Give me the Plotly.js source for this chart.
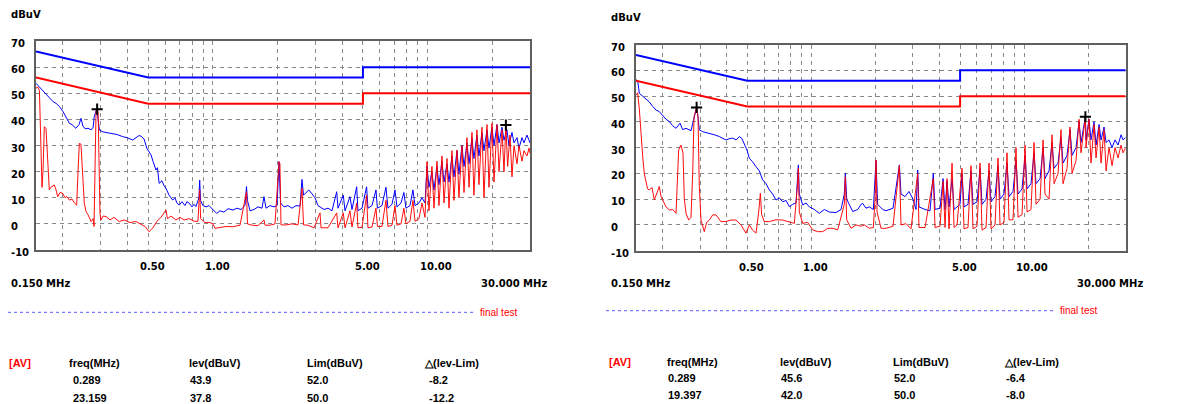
<!DOCTYPE html>
<html>
<head>
<meta charset="utf-8">
<script src="https://cdn.plot.ly/plotly-3.0.1.min.js"></script>
<style>html,body{margin:0;padding:0;background:#fff;}#chart{width:1177px;height:404px;}</style>
</head>
<body>
<div id="chart"></div>
<script>
// ---------- DATA ----------
// limit lines (MHz / dBuV)
const limFreq = [0.15, 0.5, 5, 5, 30];
const limQP   = [66, 56, 56, 60, 60];
const limAV   = [56, 46, 46, 50, 50];

// vertical grid frequencies and axis labels
const gridFreq = [0.2,0.3,0.4,0.5,0.6,0.7,0.8,0.9,1,2,3,4,5,6,7,8,9,10,20];
const xTickVals = [0.5, 1, 5, 10];
const xTickText = ['0.50', '1.00', '5.00', '10.00'];
const yTickVals = [70, 60, 50, 40, 30, 20, 10, 0, -10];

// left chart, blue trace
const freqLeftQP = [0.150,0.1532,0.1564,0.161,0.167,0.172,0.180,0.187,0.193,0.2004,
 0.207,0.2145,0.2207,0.230,0.238,0.243,0.248,0.254,0.262,0.271,
 0.277,0.280,0.288,0.292,0.296,0.308,0.325,0.341,0.358,0.380,
 0.398,0.423,0.438,0.453,0.462,0.478,0.492,0.504,0.515,0.526,
 0.543,0.552,0.562,0.579,0.591,0.605,0.625,0.650,0.666,0.680,
 0.697,0.718,0.741,0.757,0.776,0.800,0.817,0.834,0.861,0.868,
 0.876,0.899,0.929,0.959,1.0,1.042,1.079,1.126,1.176,1.241,
 1.295,1.352,1.411,1.434,1.449,1.489,1.554,1.622,1.693,1.73,
 1.768,1.845,1.926,1.989,2.033,2.066,2.144,2.238,2.336,2.439,
 2.546,2.601,2.643,2.715,2.80,2.895,2.99,3.088,3.155,3.293,
 3.437,3.587,3.773,3.826,4.05,4.125,4.35,4.446,4.675,4.74,
 4.95,5.2,5.277,5.51,5.75,5.84,6.13,6.40,6.54,6.83,
 7.05,7.2,7.52,7.76,7.93,8.28,8.55,8.74,9.12,9.42,
 9.73,9.94,10.15,10.48,10.71,11.06,11.3,11.67,11.93,12.32,
 12.58,12.99,13.27,13.71,14.0,14.46,14.78,15.26,15.6,16.1,
 16.44,16.98,17.35,17.92,18.31,18.91,19.32,19.95,20.39,21.06,
 21.52,22.22,22.7,23.43,23.94,24.73,25.27,26.1,26.66,27.53,
 28.12,29.04,29.68,30];
const levLeftQP = [53.8,53,52.5,51,50,48.5,46.8,46,44.9,43,
 41,38.5,38,36.6,38,40.4,37.5,36.4,36.6,36,
 37,41,44.2,40,35.9,35.2,34.8,34.7,34.2,33.4,
 33,32.1,33,33.8,33.6,32.5,29,27.5,26.4,24,
 20.6,21.5,15.5,16.5,14.8,13.6,11,9.1,10,8,
 7.2,8.5,7,8.5,7.9,6.5,7.5,6.6,10,16.8,
 9,7,6.5,7,5.5,4,5,4.5,5.8,5.3,
 6,5.5,7,14.3,9,5,5.5,6.5,6,10.4,
 6,7,6.5,7,23.8,8,6.5,7,6,7,
 6.8,17,11,12,13,11.5,10,7,6.5,5.5,
 6,5,12.3,6,11,5,10.4,5.5,14.2,5,
 6,14.2,6,7,13,6,7,14,6,7.5,
 13,6.5,8,12,6,7,13,7,8,10,
 8,22,14,20,13,22,15,24,16,23,
 16,26,18,28,19,30,22,31,23,33,
 25,34,26,35,28,36,29,37,30,38,
 31,37,32,36,30,35,31,33,29,33,
 31,34,32,31];

// left chart, red trace
const freqLeftAV = [0.150,0.1532,0.1556,0.1582,0.160,0.1617,0.164,0.167,0.1697,0.173,
 0.176,0.1826,0.186,0.1893,0.194,0.1997,0.2047,0.209,0.2145,0.2207,
 0.2267,0.232,0.2354,0.2387,0.243,0.247,0.2518,0.2565,0.262,0.271,
 0.277,0.2795,0.2825,0.2856,0.2886,0.292,0.2947,0.298,0.301,0.308,
 0.318,0.332,0.346,0.366,0.386,0.411,0.438,0.458,0.483,0.504,
 0.526,0.549,0.573,0.605,0.614,0.638,0.673,0.703,0.734,0.776,
 0.817,0.852,0.868,0.877,0.919,0.969,1.0,1.023,1.079,1.151,
 1.241,1.338,1.434,1.449,1.521,1.622,1.73,1.749,1.845,1.947,
 2.033,2.053,2.076,2.19,2.336,2.492,2.601,2.643,2.773,2.958,
 3.155,3.19,3.437,3.773,3.826,4.05,4.125,4.35,4.446,4.675,
 4.74,4.95,5.2,5.277,5.51,5.75,5.84,6.13,6.40,6.54,
 6.83,7.05,7.2,7.52,7.76,7.93,8.28,8.55,8.74,9.12,
 9.42,9.73,9.94,10.15,10.48,10.71,11.06,11.3,11.67,11.93,
 12.32,12.58,12.99,13.27,13.71,14.0,14.46,14.78,15.26,15.6,
 16.1,16.44,16.98,17.35,17.92,18.31,18.91,19.32,19.95,20.39,
 21.06,21.52,22.22,22.7,23.159,23.6,24.2,24.73,25.27,26.1,
 26.66,27.53,28.12,29.04,29.68,30];
const levLeftAV = [52,52.3,51,32,14,20,37.2,36.5,25,13,
 14,14.9,13,10.4,12,11.7,10,10.5,9.1,9.5,
 8,7.2,20,30.8,30.5,20,7.9,4.7,3.5,0.9,
 2,-1,30,43,44.2,43,25,4,1.5,3,
 2.8,1.5,2.5,0.9,1.5,0.5,0.9,0,-1,-3,
 -1.5,1,2.5,5.3,2,3,1.5,2.5,1.5,2,
 1,1,13,2,0.5,0.5,0,-1.7,-1.5,-1,
 -1.1,-0.5,12.3,0,-0.5,-0.7,1.5,-0.5,-0.5,0,
 23.8,23,-0.4,-0.4,0,-0.4,13.6,-0.4,-0.5,-1.5,
 4.2,-1.5,-1.5,4.2,-1.5,4.2,-1.5,5,-1.2,7.9,
 -1.5,-1.3,11,-1.5,-1.2,6,-1,-1,9,-1,
 -0.5,7,-0.5,0,6,0,1,9,1,2,
 8,2.5,23.8,5,22,6,24,7,26,8,
 25,6,28,9,28.3,10,30,12,33,14,
 35,11,36,15,37,10,38,14,38.5,16,
 38,20,36,20,38,22,34,18,30,23,
 30,24,28,26,29,27];

// right chart, blue trace
const freqRightQP = [0.150,0.1527,0.1555,0.1613,0.167,0.173,0.1797,0.1863,0.193,0.2,
 0.2076,0.2153,0.223,0.2313,0.2415,0.2485,0.2577,0.272,0.279,0.289,
 0.2934,0.2976,0.3085,0.3317,0.350,0.3696,0.397,0.412,0.427,0.4427,
 0.459,0.472,0.484,0.4986,0.511,0.5297,0.5496,0.5697,0.5906,0.6124,
 0.635,0.658,0.682,0.7074,0.7335,0.7605,0.788,0.817,0.847,0.8595,
 0.869,0.878,0.9105,0.944,0.979,1.033,1.09,1.151,1.215,1.306,
 1.379,1.429,1.445,1.466,1.565,1.652,1.712,1.742,1.806,1.873,
 1.956,2.013,2.049,2.164,2.244,2.42,2.592,2.639,2.755,2.877,
 3.004,3.104,3.161,3.205,3.421,3.611,3.742,3.812,4.025,4.158,
 4.249,4.342,4.437,4.583,4.683,4.837,4.997,5.106,5.217,5.448,
 5.628,5.751,6.006,6.204,6.339,6.62,6.838,6.988,7.297,7.536,
 7.701,8.041,8.307,8.489,8.864,9.157,9.358,9.773,10.1,10.32,
 10.77,11.13,11.37,11.88,12.27,12.53,13.09,13.52,13.82,14.43,
 14.9,15.23,15.9,16.42,16.79,17.53,18.11,18.5,19.397,19.53,
 20.17,20.61,21.3,21.77,22.49,22.98,23.73,24.26,25.05,25.88,
 26.73,27.62,28.53,29.15,30];
const levRightQP = [56.3,56,51.1,50,49,47.8,46,44.6,44,42.7,
 41,40.1,38.5,37.5,39.5,37,37.5,36.6,40,45.6,
 42,36.9,36.2,35.6,35,34.3,33,33.5,33.7,33,
 34.3,33.5,31.7,29,25.9,24.5,22.6,21,17.5,16,
 13.6,12,9.7,10.5,9,9.5,7.1,8,8.5,15,
 23.3,12,7.8,8.5,7,6,4.5,6,5,4.8,
 6,12,20.1,10,5.2,6,8,8.4,6.5,7,
 6,25.2,8,6,5.5,6.5,23.3,12,11,13,
 10,6,21.3,7,6,5.5,20,6,6.5,18,
 6,17,7,18,6,7,8,20,7,8,
 21,8,9,22,8,10,21,9,11,23,
 10,12,24,11,13,25,12,14,27,14,
 16,28,16,18,30,18,21,32,22,24,
 34,24,27,37,27,30,40,32,42,33,
 41,33,40,31,39,33,38,32,33,30,
 33,31,35,33,34];

// right chart, red trace
const freqRightAV = [0.150,0.1527,0.1555,0.1583,0.1613,0.1641,0.167,0.170,0.173,0.1784,
 0.1829,0.1876,0.193,0.1967,0.2,0.2076,0.2153,0.223,0.2313,0.2346,
 0.238,0.244,0.2494,0.253,0.2577,0.2652,0.272,0.277,0.281,0.289,
 0.2934,0.2976,0.303,0.314,0.322,0.3317,0.344,0.3565,0.376,0.397,
 0.419,0.4427,0.467,0.493,0.511,0.5297,0.5496,0.5657,0.576,0.584,
 0.601,0.635,0.682,0.7335,0.788,0.832,0.8595,0.869,0.878,0.9105,
 0.961,1.015,1.071,1.131,1.194,1.26,1.33,1.429,1.445,1.466,
 1.536,1.622,1.712,1.775,1.873,1.956,1.992,2.013,2.036,2.126,
 2.244,2.42,2.592,2.639,2.786,2.94,3.161,3.205,3.421,3.742,
 3.812,4.025,4.158,4.249,4.342,4.437,4.583,4.683,4.837,5.106,
 5.217,5.448,5.628,5.751,6.006,6.204,6.339,6.62,6.838,6.988,
 7.297,7.536,7.701,8.041,8.307,8.489,8.864,9.157,9.358,9.773,
 10.1,10.32,10.77,11.13,11.37,11.88,12.27,12.53,13.09,13.52,
 13.82,14.43,14.9,15.23,15.9,16.42,16.79,17.53,18.11,18.5,
 19.397,19.53,20.17,20.61,21.3,21.77,22.49,22.98,23.73,24.26,
 25.05,25.88,26.73,27.62,28.53,29.15,30];
const levRightAV = [50.4,51.3,45,35,26.5,20,16.2,14,13.6,14.5,
 9.7,12,14.9,11,9.7,7,5.8,6,4.5,20,
 29.1,31,28,10,4.5,1.9,3,20,42,45.6,
 42,15,1.9,-2.6,1,1.9,3.9,3.9,1.3,1.3,
 1.9,1.9,0,-3.2,0,-2,-3.2,5,12.3,4,
 1.3,1.3,2,1.9,1,0.6,15,22,5,0.6,
 1,-1.9,-2.6,-2.6,-1.3,-1.3,-1.9,8,18.7,2,
 -1.3,0,-0.5,0,-1.3,-1,10,25.2,5,-1.3,
 -1.3,-0.5,23,0,0.5,-1.5,20,-1,-1,18,
 -1,-0.5,17,-1,18,-1.5,24,-1,0,22,
 -1.5,-1,23,-1.5,-0.5,24,-2,-1,24,-1.5,
 0,26,0,1,28,2,2,30,3,4,
 31,5,6,32,8,10,33,12,10,35,
 16,20,37,16,22,38,20,25,41,28,
 42,30,41,24,39,26,38,24,37,21,
 30,23,30,26,31,28,30];

// marked peaks and result tables
const peakFreqLeft  = [0.289, 23.159];
const peakLevLeft   = [43.9, 37.8];
const limAtPeakLeft = [52.0, 50.0];
const deltaLeft     = [-8.2, -12.2];
const peakFreqRight  = [0.289, 19.397];
const peakLevRight   = [45.6, 42.0];
const limAtPeakRight = [52.0, 50.0];
const deltaRight     = [-6.4, -8.0];
const tableHeaders = ['freq(MHz)', 'lev(dBuV)', 'Lim(dBuV)', '\u25B3(lev-Lim)'];

// ---------- FIGURE ----------
const W = 1177, H = 404;
const px = v => v / W;
const py = v => 1 - v / H;
const BLUE = '#0000ff', RED = '#ff0000';
const tickFont = {family: 'DejaVu Sans', size: 10, color: '#000', weight: 'bold'};
const tabFont = {family: 'Liberation Sans, Arial', size: 11, color: '#000', weight: 'bold'};

function axisX(dom, anchor) {
  return {type: 'log', domain: dom, anchor: anchor,
    range: [Math.log10(0.15), Math.log10(30)],
    tickmode: 'array', tickvals: gridFreq, showticklabels: false, ticks: '',
    showgrid: true, gridcolor: '#8a8a8a', gridwidth: 1, griddash: '4px,4px',
    showline: true, mirror: true, linecolor: '#5f5f5f', linewidth: 2,
    zeroline: false, fixedrange: true};
}
function axisY(dom, anchor) {
  return {domain: dom, anchor: anchor, range: [-10, 70],
    tickmode: 'array', tickvals: [0,10,20,30,40,50,60], showticklabels: false, ticks: '',
    showgrid: true, gridcolor: '#8a8a8a', gridwidth: 1, griddash: '4px,4px',
    showline: true, mirror: true, linecolor: '#5f5f5f', linewidth: 2,
    zeroline: false, fixedrange: true};
}

function tracesFor(xa, ya, fQP, lQP, fAV, lAV, pf, pl) {
  return [
    {x: fQP, y: lQP, xaxis: xa, yaxis: ya, type: 'scatter', mode: 'lines',
     line: {color: BLUE, width: 1}, hoverinfo: 'skip'},
    {x: fAV, y: lAV, xaxis: xa, yaxis: ya, type: 'scatter', mode: 'lines',
     line: {color: RED, width: 1}, opacity: 0.95, hoverinfo: 'skip'},
    {x: limFreq, y: limQP, xaxis: xa, yaxis: ya, type: 'scatter', mode: 'lines',
     line: {color: BLUE, width: 2}, hoverinfo: 'skip'},
    {x: limFreq, y: limAV, xaxis: xa, yaxis: ya, type: 'scatter', mode: 'lines',
     line: {color: RED, width: 2}, hoverinfo: 'skip'},
    {x: pf, y: pl, xaxis: xa, yaxis: ya, type: 'scatter', mode: 'markers',
     marker: {symbol: 'cross-thin', size: 8, line: {color: '#000', width: 2}},
     hoverinfo: 'skip'}
  ];
}

const data = [].concat(
  tracesFor('x', 'y', freqLeftQP, levLeftQP, freqLeftAV, levLeftAV, peakFreqLeft, peakLevLeft),
  tracesFor('x2', 'y2', freqRightQP, levRightQP, freqRightAV, levRightAV, peakFreqRight, peakLevRight)
);

const ann = [];
function txt(t, x, y, xanchor, font, extra) {
  ann.push(Object.assign({text: t, x: x, y: y, xref: 'paper', yref: 'paper',
    xanchor: xanchor, yanchor: 'middle', showarrow: false, font: font, borderpad: 0}, extra || {}));
}

function panelText(o) {
  // unit label
  txt('dBuV', px(o.left), py(o.unitY), 'left', tickFont);
  // y tick labels
  yTickVals.forEach(v => {
    ann.push({text: String(v), x: px(o.left), y: v, xref: 'paper', yref: o.ya,
      xanchor: 'left', yanchor: 'middle', yshift: -2.5, showarrow: false,
      font: tickFont, borderpad: 0});
  });
  // x tick labels
  xTickVals.forEach((v, i) => {
    ann.push({text: xTickText[i], x: Math.log10(v), y: py(o.xlabY), xref: o.xa, yref: 'paper',
      xanchor: 'left', yanchor: 'middle', xshift: -9, showarrow: false,
      font: tickFont, borderpad: 0});
  });
  txt('0.150 MHz', px(o.left), py(o.mhzY), 'left', tickFont);
  txt('30.000 MHz', px(o.mhzRight), py(o.mhzY), 'right', tickFont);
  // legend
  txt('final test', px(o.legTextX), py(o.legY), 'left',
      {family: 'Liberation Sans, Arial', size: 10, color: RED});
  // table
  txt('[AV]', px(o.left - 2), py(o.rowY[0]), 'left', Object.assign({}, tabFont, {color: RED}));
  tableHeaders.forEach((h, i) => txt(h, px(o.colX[i]), py(o.rowY[0]), 'left', tabFont));
  for (let r = 0; r < 2; r++) {
    const vals = [o.f[r].toFixed(3), o.l[r].toFixed(1), o.lim[r].toFixed(1), o.d[r].toFixed(1)];
    vals.forEach((v, i) => txt(v, px(o.valX[i]), py(o.rowY[r + 1]), 'left', tabFont));
  }
}

panelText({left: 10, unitY: 14, ya: 'y', xa: 'x', xlabY: 266.5, mhzY: 283.5, mhzRight: 548,
  legTextX: 479, legY: 312, rowY: [363, 380, 397.5],
  colX: [67.5, 188, 305.5, 423], valX: [71.5, 189, 306, 427.5],
  f: peakFreqLeft, l: peakLevLeft, lim: limAtPeakLeft, d: deltaLeft});
panelText({left: 610, unitY: 17, ya: 'y2', xa: 'x2', xlabY: 267.5, mhzY: 283.5, mhzRight: 1144,
  legTextX: 1059, legY: 310.7, rowY: [362, 378, 394.5],
  colX: [666, 779, 891.5, 1003], valX: [666.5, 780, 892.5, 1005],
  f: peakFreqRight, l: peakLevRight, lim: limAtPeakRight, d: deltaRight});

const shapes = [
  {type: 'line', xref: 'paper', yref: 'paper', x0: px(8), x1: px(475), y0: py(312.3), y1: py(312.3),
   line: {color: '#5a5aff', width: 1, dash: '3px,3px'}},
  {type: 'line', xref: 'paper', yref: 'paper', x0: px(606), x1: px(1055), y0: py(310.7), y1: py(310.7),
   line: {color: '#5a5aff', width: 1, dash: '3px,3px'}}
];

const layout = {
  width: W, height: H, autosize: false,
  margin: {l: 0, r: 0, t: 0, b: 0, pad: 0},
  paper_bgcolor: '#ffffff', plot_bgcolor: '#ffffff',
  showlegend: false,
  xaxis: axisX([px(36), px(530)], 'y'),
  yaxis: axisY([py(250), py(41)], 'x'),
  xaxis2: axisX([px(636), px(1125.7)], 'y2'),
  yaxis2: axisY([py(250.7), py(44.6)], 'x2'),
  annotations: ann,
  shapes: shapes
};

Plotly.newPlot('chart', data, layout, {staticPlot: true, displayModeBar: false});
</script>
</body>
</html>
